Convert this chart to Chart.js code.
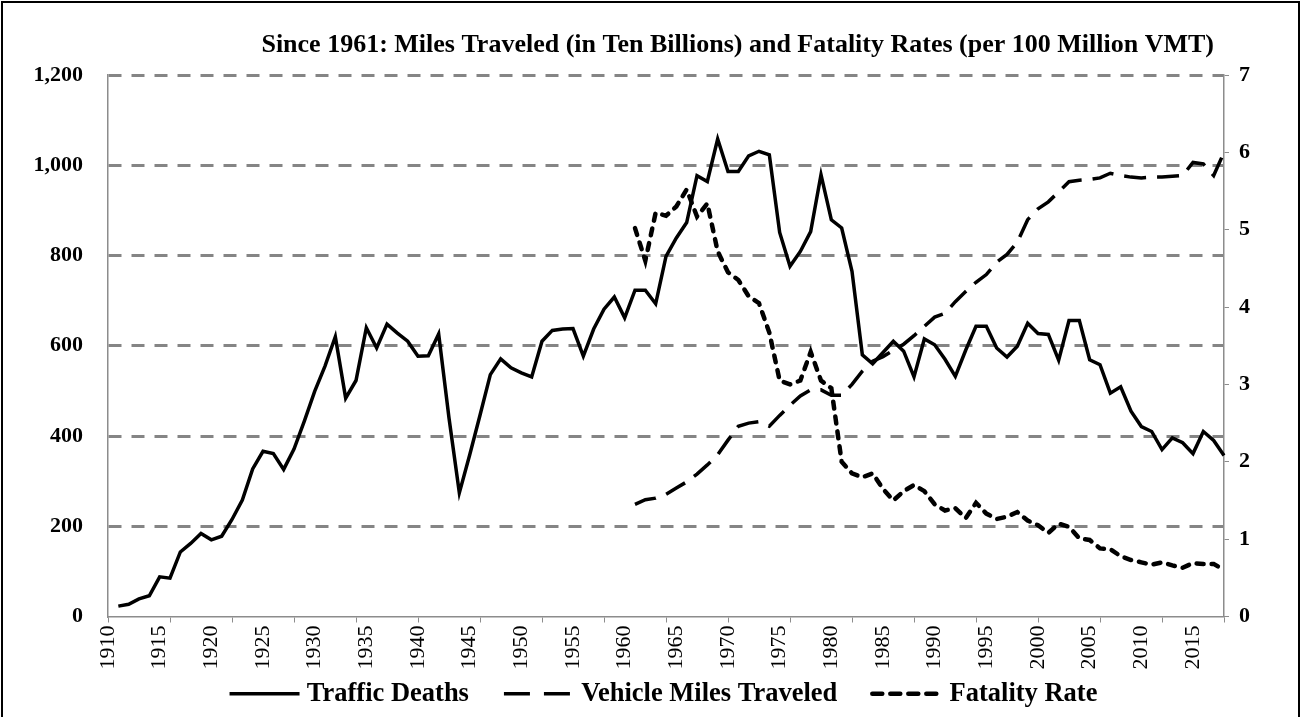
<!DOCTYPE html>
<html>
<head>
<meta charset="utf-8">
<script src="https://cdn.jsdelivr.net/npm/chart.js@4.4.1/dist/chart.umd.min.js"></script>
<style>
  html, body { margin: 0; padding: 0; background: #fff; }
  #wrap { width: 1302px; height: 717px; position: relative; }
</style>
</head>
<body>
<div id="wrap"><canvas id="chart1"></canvas></div>
<script>
// categories: one per year, 1910-2018
const years = [
  1910,1911,1912,1913,1914,1915,1916,1917,1918,1919,
  1920,1921,1922,1923,1924,1925,1926,1927,1928,1929,
  1930,1931,1932,1933,1934,1935,1936,1937,1938,1939,
  1940,1941,1942,1943,1944,1945,1946,1947,1948,1949,
  1950,1951,1952,1953,1954,1955,1956,1957,1958,1959,
  1960,1961,1962,1963,1964,1965,1966,1967,1968,1969,
  1970,1971,1972,1973,1974,1975,1976,1977,1978,1979,
  1980,1981,1982,1983,1984,1985,1986,1987,1988,1989,
  1990,1991,1992,1993,1994,1995,1996,1997,1998,1999,
  2000,2001,2002,2003,2004,2005,2006,2007,2008,2009,
  2010,2011,2012,2013,2014,2015,2016,2017,2018
];

// traffic deaths (left axis), 1910-2018
const trafficDeaths = [
  null,23,27,39,46,88,85,143,162,184,
  170,178,215,258,327,366,361,326,371,433,
  499,555,620,484,523,640,595,648,628,610,
  577,578,626,440,274,358,446,536,571,551,
  540,531,610,634,637,638,577,637,681,708,
  662,723,723,693,798,839,873,977,964,1058,
  986,986,1021,1031,1023,851,776,809,853,979,
  879,861,765,580,560,585,610,588,531,615,
  602,570,532,590,643,643,595,575,599,650,
  627,625,568,656,656,569,558,495,509,455,
  421,410,370,396,385,361,410,390,357
];

// vehicle miles traveled, ten billions (right axis), 1961-2018
const milesTraveled = [
  1.45,1.51,1.53,1.58,1.66,1.74,1.84,1.96,2.09,
  2.28,2.46,2.50,2.52,2.46,2.60,2.73,2.85,2.93,2.93,
  2.86,2.86,3.00,3.17,3.30,3.36,3.44,3.52,3.63,3.75,
  3.87,3.92,4.07,4.20,4.32,4.42,4.58,4.68,4.84,5.13,
  5.27,5.36,5.49,5.62,5.64,5.65,5.67,5.73,5.70,5.68,
  5.67,5.68,5.68,5.69,5.70,5.87,5.85,5.70,6.00
];

// fatality rate per 100 million VMT (right axis), 1961-2018
const fatalityRate = [
  5.02,4.60,5.22,5.18,5.30,5.52,5.17,5.34,4.72,
  4.45,4.35,4.14,4.05,3.67,3.05,3.00,3.05,3.42,3.05,
  2.95,2.00,1.85,1.80,1.85,1.65,1.50,1.62,1.70,1.62,
  1.45,1.37,1.40,1.27,1.47,1.33,1.26,1.29,1.35,1.24,
  1.18,1.08,1.20,1.16,1.01,0.99,0.88,0.87,0.78,0.73,
  0.70,0.67,0.70,0.66,0.63,0.69,0.68,0.68,0.60
];

// no VMT / rate data before 1961
const before1961 = Array(51).fill(null);

const chartTitle = "Since 1961: Miles Traveled (in Ten Billions) and Fatality Rates (per 100 Million VMT)";
const serif = '"Liberation Serif", "Times New Roman", serif';
const gridGray = '#858585';
const axisGray = '#8c8c8c';
const legendBox = 89;

// outer frame of the chart
const framePlugin = {
  id: 'frame',
  beforeDraw(chart) {
    const ctx = chart.ctx;
    ctx.save();
    ctx.fillStyle = '#fff';
    ctx.fillRect(0, 0, chart.width, chart.height);
    ctx.strokeStyle = '#000';
    ctx.lineWidth = 2;
    ctx.beginPath();
    ctx.moveTo(2, chart.height + 5);
    ctx.lineTo(2, 2);
    ctx.lineTo(chart.width - 3, 2);
    ctx.lineTo(chart.width - 3, chart.height + 5);
    ctx.stroke();
    ctx.restore();
  }
};

// title sits right aligned above the plot
const titlePlugin = {
  id: 'sideTitle',
  afterDraw(chart) {
    const ctx = chart.ctx;
    ctx.save();
    ctx.font = 'bold 26px ' + serif;
    ctx.fillStyle = '#000';
    ctx.textAlign = 'right';
    ctx.textBaseline = 'middle';
    ctx.fillText(chartTitle, chart.chartArea.right - 10, 45);
    ctx.restore();
  }
};

// legend samples: draw each dataset's line style just left of its text
const legendLinePlugin = {
  id: 'legendLines',
  afterDraw(chart) {
    const boxes = chart.legend && chart.legend.legendHitBoxes;
    if (!boxes) return;
    const ctx = chart.ctx;
    boxes.forEach((b, i) => {
      const ds = chart.data.datasets[i];
      const y = b.top + b.height / 2;
      ctx.save();
      ctx.strokeStyle = ds.borderColor;
      ctx.lineWidth = ds.borderWidth;
      ctx.lineCap = ds.borderCapStyle || 'butt';
      ctx.setLineDash(ds.legendDash || []);
      ctx.beginPath();
      ctx.moveTo(b.left + legendBox - 64, y);
      ctx.lineTo(b.left + legendBox + 6, y);
      ctx.stroke();
      ctx.restore();
    });
  }
};

let myChart1 = document.getElementById("chart1").getContext('2d');

var data = {
  labels: years,
  datasets: [
    {
      label: "Traffic Deaths",
      data: trafficDeaths,
      yAxisID: 'y',
      borderColor: '#000',
      backgroundColor: '#000',
      borderWidth: 3.5,
      pointRadius: 0,
      tension: 0
    },
    {
      label: "Vehicle Miles Traveled",
      data: before1961.concat(milesTraveled),
      yAxisID: 'y1',
      borderColor: '#000',
      backgroundColor: '#000',
      borderWidth: 3.5,
      borderDash: [22, 11],
      legendDash: [26, 14],
      pointRadius: 0,
      tension: 0
    },
    {
      label: "Fatality Rate",
      data: before1961.concat(fatalityRate),
      yAxisID: 'y1',
      borderColor: '#000',
      backgroundColor: '#000',
      borderWidth: 4.5,
      borderDash: [7, 8],
      legendDash: [10, 8],
      borderCapStyle: 'round',
      pointRadius: 0,
      tension: 0
    }
  ]
};

var options = {
  responsive: true,
  maintainAspectRatio: false,
  animation: false,
  layout: { padding: { left: 0, right: 0, top: 75, bottom: 0 } },
  plugins: {
    title: { display: false },
    tooltip: { enabled: false },
    legend: {
      display: true,
      position: 'bottom',
      labels: {
        color: '#000',
        font: { family: serif, size: 26.5, weight: 'bold' },
        boxWidth: legendBox,
        boxHeight: 4,
        padding: 10,
        generateLabels: (chart) =>
          Chart.defaults.plugins.legend.labels.generateLabels(chart).map((item) =>
            Object.assign(item, { fillStyle: 'rgba(0,0,0,0)', strokeStyle: 'rgba(0,0,0,0)', lineWidth: 0 }))
      }
    }
  },
  scales: {
    x: {
      offset: false,
      grid: {
        display: true,
        drawOnChartArea: false,
        drawTicks: true,
        tickLength: 6,
        lineWidth: 1,
        color: (c) => (c.index % 6 === 0 ? axisGray : 'rgba(0,0,0,0)')
      },
      border: { display: true, color: axisGray, width: 1.5 },
      ticks: {
        autoSkip: false,
        maxRotation: 90,
        minRotation: 90,
        padding: 3,
        color: '#000',
        font: { family: serif, size: 22 },
        callback: (v, i) => (years[i] % 5 === 0 ? String(years[i]) : '')
      },
      afterFit: (s) => { s.height = 54; }
    },
    y: {
      position: 'left',
      min: 0,
      max: 1200,
      ticks: {
        stepSize: 200,
        padding: 25,
        color: '#000',
        font: { family: serif, size: 22, weight: 'bold' },
        callback: (v) => v.toLocaleString('en-US')
      },
      grid: {
        drawTicks: false,
        lineWidth: 3,
        color: (c) => (c.tick && c.tick.value === 0 ? 'rgba(0,0,0,0)' : gridGray)
      },
      border: { display: true, color: axisGray, width: 1.5, dash: [13, 10] },
      afterFit: (s) => { s.width = 108; }
    },
    y1: {
      position: 'right',
      min: 0,
      max: 7,
      ticks: {
        stepSize: 1,
        padding: 10,
        color: '#000',
        font: { family: serif, size: 22, weight: 'bold' }
      },
      grid: {
        drawOnChartArea: false,
        drawTicks: true,
        tickLength: 5,
        color: axisGray
      },
      border: { display: true, color: axisGray, width: 1.5 },
      afterFit: (s) => { s.width = 78; }
    }
  }
};

let chart1 = new Chart(myChart1, {
  type: "line",
  data: data,
  options: options,
  plugins: [framePlugin, titlePlugin, legendLinePlugin]
});
</script>
</body>
</html>
